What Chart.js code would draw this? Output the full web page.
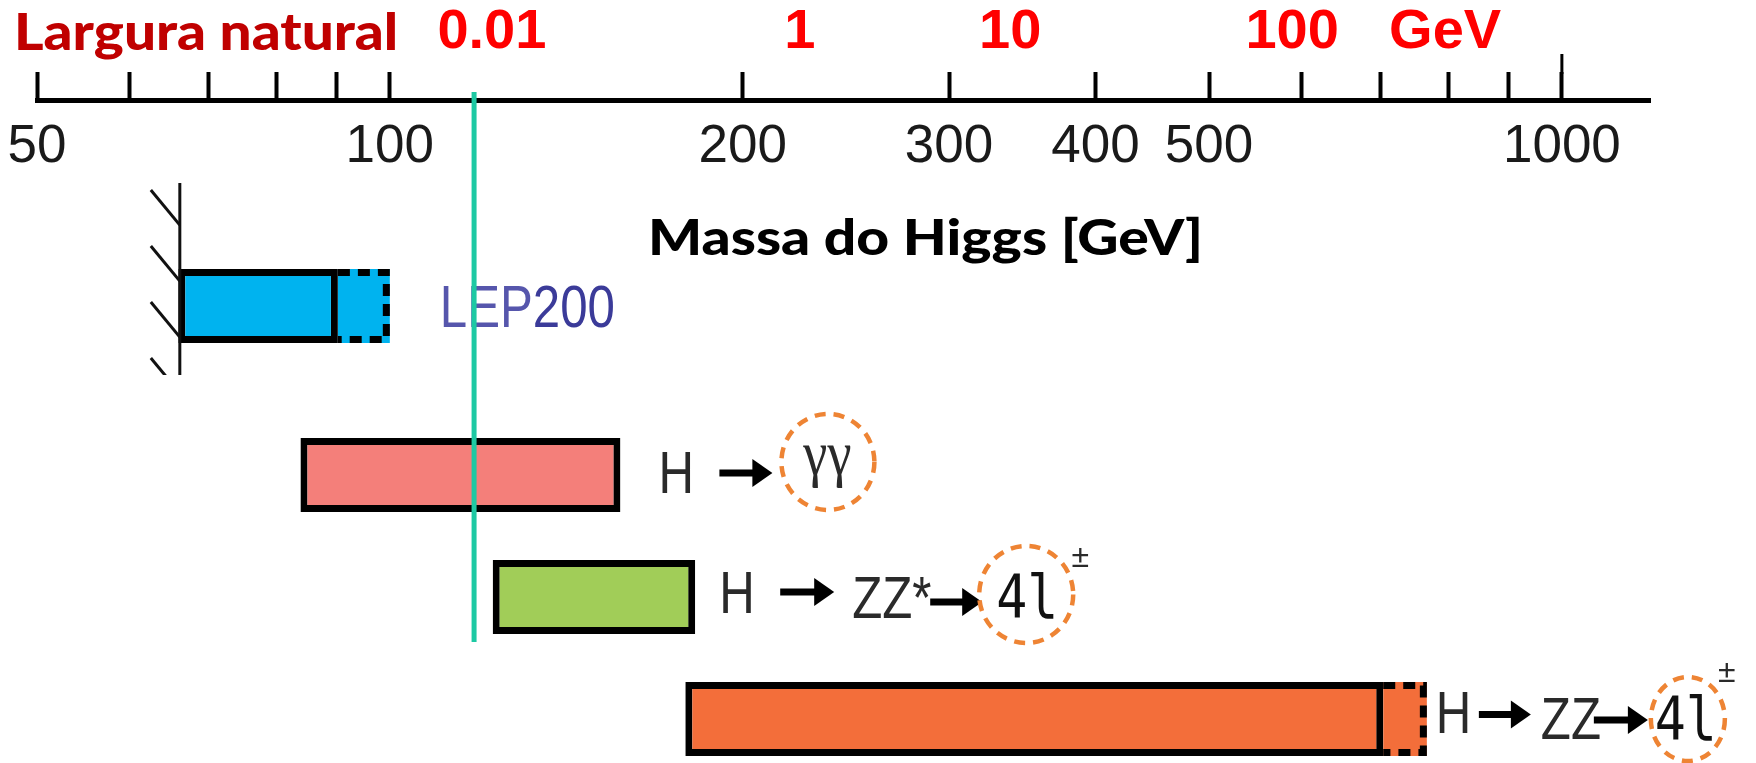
<!DOCTYPE html>
<html>
<head>
<meta charset="utf-8">
<script src="https://cdn.jsdelivr.net/npm/chart.js@4.4.1/dist/chart.umd.min.js"></script>
<style>
  html, body { margin: 0; padding: 0; background: #fff; }
</style>
</head>
<body>
<canvas id="higgsChart" width="1756" height="763"></canvas>
<script>
// Canais de busca do Higgs e faixa de massa coberta (GeV)
var canais = ['LEP200', 'H → γγ', 'H → ZZ* → 4l±', 'H → ZZ → 4l±'];
var lepFaixa = [[66, 90.3], null, null, null];
var lepExtensao = [[90.3, 100], null, null, null];
var lhcFaixa = [null, [83.9, 157.3], [122.4, 182.2], [178.7, 704]];
var lhcExtensao = [null, null, null, [704, 767]];

// Eixo de massa
var massaTicks = [50, 60, 70, 80, 90, 100, 200, 300, 400, 500, 600, 700, 800, 900, 1000];
var massaRotulos = ['50', '', '', '', '', '100', '200', '300', '400', '500', '', '', '', '', '1000'];
var massaMin = 50;
var massaMax = 1189;

// Eixo de largura natural (posições em massa)
var larguraMassa = [122.2, 223.8, 338.3, 588.6, 795];
var larguraRotulos = ['0.01', '1', '10', '100', 'GeV'];

// Massa marcada pela linha vertical
var massaHiggs = 118;

// verifica se a fonte estreita existe
function temFonte(nome) {
    var c = document.createElement('canvas').getContext('2d');
    c.font = '40px monospace';
    var a = c.measureText('HZZ4l200abc').width;
    c.font = '40px "' + nome + '", monospace';
    var b = c.measureText('HZZ4l200abc').width;
    return a !== b;
}
var temNarrow = temFonte('Liberation Sans Narrow');
var fonteEstreita = temNarrow ? '"Liberation Sans Narrow", "Liberation Sans", sans-serif' : '"Liberation Sans", sans-serif';
var fatorX = temNarrow ? 1 : 0.82;

function texto(ctx, t, x, y, fonte, cor, alinhar, sx, linhaBase) {
    ctx.save();
    ctx.font = fonte;
    ctx.fillStyle = cor;
    ctx.textAlign = alinhar || 'left';
    ctx.textBaseline = linhaBase || 'alphabetic';
    ctx.translate(x, y);
    ctx.scale(sx || 1, 1);
    ctx.fillText(t, 0, 0);
    var w = ctx.measureText(t).width * (sx || 1);
    ctx.restore();
    return w;
}

function seta(ctx, x0, x1, y) {
    ctx.save();
    ctx.strokeStyle = '#000';
    ctx.fillStyle = '#000';
    ctx.lineWidth = 7;
    ctx.beginPath();
    ctx.moveTo(x0, y);
    ctx.lineTo(x1 - 16, y);
    ctx.stroke();
    ctx.beginPath();
    ctx.moveTo(x1 - 20, y - 14);
    ctx.lineTo(x1, y);
    ctx.lineTo(x1 - 20, y + 14);
    ctx.closePath();
    ctx.fill();
    ctx.restore();
}

function circulo(ctx, cx, cy, rx, ry) {
    ctx.save();
    ctx.strokeStyle = '#ee8434';
    ctx.lineWidth = 4.5;
    ctx.setLineDash([11, 8]);
    ctx.beginPath();
    ctx.ellipse(cx, cy, rx, ry, 0, 0, Math.PI * 2);
    ctx.stroke();
    ctx.restore();
}

// extremos de cada linha (canal) a partir dos elementos das barras
function extremoLinha(chart, j) {
    var r = { ini: Infinity, fim: -Infinity, y: null, h: 0 };
    chart.data.datasets.forEach(function(ds, i) {
        if (ds.data[j] == null) return;
        var p = chart.getDatasetMeta(i).data[j].getProps(['x', 'y', 'base', 'height'], true);
        r.ini = Math.min(r.ini, p.x, p.base);
        r.fim = Math.max(r.fim, p.x, p.base);
        if (!ds.tracejado) { r.y = p.y; r.h = p.height; }
    });
    return r;
}

var anotacoes = {
    id: 'anotacoes',
    afterDatasetsDraw: function(chart) {
        var ctx = chart.ctx;
        // contorno tracejado das extensões
        chart.data.datasets.forEach(function(ds, i) {
            if (!ds.tracejado) return;
            chart.getDatasetMeta(i).data.forEach(function(bar, j) {
                if (ds.data[j] == null) return;
                var p = bar.getProps(['x', 'y', 'base', 'height'], true);
                var esq = Math.min(p.x, p.base), dir = Math.max(p.x, p.base);
                var topo = p.y - p.height / 2 + 3.5, baixo = p.y + p.height / 2 - 3.5;
                ctx.save();
                ctx.strokeStyle = '#000';
                ctx.lineWidth = 7;
                ctx.setLineDash([12, 8]);
                ctx.beginPath();
                ctx.moveTo(esq, topo);
                ctx.lineTo(dir - 3.5, topo);
                ctx.lineTo(dir - 3.5, baixo);
                ctx.lineTo(esq, baixo);
                ctx.stroke();
                ctx.restore();
            });
        });
    },
    afterDraw: function(chart) {
        var ctx = chart.ctx;
        var xs = chart.scales.x, xw = chart.scales.xw, area = chart.chartArea;

        // títulos
        texto(ctx, 'Largura natural', xw.left - 23, xw.bottom - 50, '900 52px Lato', '#c00000', 'left', 1.09);
        texto(ctx, 'Massa do Higgs [GeV]', (area.left + area.right) / 2 + 82, area.top - 14, '900 50px Lato', '#000', 'center', 1.14);

        // tick de 1000 mais alto
        var x1000 = xw.getPixelForValue(1000);
        ctx.save();
        ctx.strokeStyle = '#000';
        ctx.lineWidth = 3;
        ctx.beginPath();
        ctx.moveTo(x1000, xw.bottom - 46);
        ctx.lineTo(x1000, xw.bottom - 26);
        ctx.stroke();
        ctx.restore();

        // parede com hachuras no limite do LEP
        var lep = extremoLinha(chart, 0);
        var xp = lep.ini + 1.5, topo = lep.y - 123, baixo = lep.y + 69;
        ctx.save();
        ctx.strokeStyle = '#111';
        ctx.lineWidth = 3;
        ctx.beginPath();
        ctx.moveTo(xp, topo);
        ctx.lineTo(xp, baixo);
        ctx.stroke();
        ctx.beginPath();
        ctx.rect(xp - 40, topo, 40, baixo - topo);
        ctx.clip();
        for (var k = 0; k < 4; k++) {
            var yf = lep.y - 81 + k * 56;
            ctx.beginPath();
            ctx.moveTo(xp - 29, yf - 35);
            ctx.lineTo(xp, yf);
            ctx.stroke();
        }
        ctx.restore();

        var fH = '60px ' + fonteEstreita;
        var corT = '#2a2a2a';

        // LEP200
        var w = texto(ctx, 'LEP', lep.fim + 50, lep.y + 21, fH, '#5656ac', 'left', fatorX);
        texto(ctx, '200', lep.fim + 50 + w, lep.y + 21, '500 60px ' + fonteEstreita, '#3b3b99', 'left', fatorX);

        // H -> gamma gamma
        var r1 = extremoLinha(chart, 1);
        texto(ctx, 'H', r1.fim + 38, r1.y + 18, fH, corT, 'left', fatorX);
        seta(ctx, r1.fim + 99, r1.fim + 152, r1.y - 2);
        texto(ctx, 'γγ', r1.fim + 207, r1.y - 1, '64px "Liberation Serif"', corT, 'center', 0.85);
        circulo(ctx, r1.fim + 207.5, r1.y - 13, 46.5, 48);

        // H -> ZZ* -> 4l
        var r2 = extremoLinha(chart, 2);
        texto(ctx, 'H', r2.fim + 24, r2.y + 16, fH, corT, 'left', fatorX);
        seta(ctx, r2.fim + 85, r2.fim + 139, r2.y - 5);
        texto(ctx, 'ZZ*', r2.fim + 157, r2.y + 21, fH, corT, 'left', fatorX);
        seta(ctx, r2.fim + 235, r2.fim + 287, r2.y + 5);
        texto(ctx, '4l', r2.fim + 332, r2.y + 21, '60px "DejaVu Sans Mono"', '#111', 'center', 0.86);
        circulo(ctx, r2.fim + 331, r2.y - 2.5, 47, 48.5);
        texto(ctx, '±', r2.fim + 385, r2.y - 39, '32px "Liberation Sans"', corT, 'center', 1, 'middle');

        // H -> ZZ -> 4l
        var r3 = extremoLinha(chart, 3);
        texto(ctx, 'H', r3.fim + 9, r3.y + 14, fH, corT, 'left', fatorX);
        seta(ctx, r3.fim + 52, r3.fim + 104, r3.y - 4.5);
        texto(ctx, 'ZZ', r3.fim + 114, r3.y + 20, fH, corT, 'left', fatorX);
        seta(ctx, r3.fim + 167, r3.fim + 221, r3.y + 1);
        texto(ctx, '4l', r3.fim + 259, r3.y + 21, '60px "DejaVu Sans Mono"', '#111', 'center', 0.86);
        circulo(ctx, r3.fim + 261, r3.y, 37, 42);
        texto(ctx, '±', r3.fim + 300, r3.y - 46, '32px "Liberation Sans"', corT, 'center', 1, 'middle');

        // linha vertical da massa do Higgs
        var xh = xs.getPixelForValue(massaHiggs);
        ctx.save();
        ctx.strokeStyle = '#1dc9a3';
        ctx.lineWidth = 5;
        ctx.beginPath();
        ctx.moveTo(xh, xw.bottom - 8);
        ctx.lineTo(xh, r2.y + r2.h / 2 + 8);
        ctx.stroke();
        ctx.restore();
    }
};

document.addEventListener('DOMContentLoaded', function() {
    var barra = { categoryPercentage: 0.77, barPercentage: 1.574, borderColor: '#000', borderSkipped: false };

    var ctx = document.getElementById('higgsChart').getContext('2d');
    var higgsChart = new Chart(ctx, {
        type: 'bar',
        data: {
            labels: canais,
            datasets: [
                Object.assign({ label: 'LEP200', data: lepFaixa, stack: 'lep', backgroundColor: '#00b3ef', borderWidth: 7 }, barra),
                Object.assign({ label: 'LEP200 (extensão)', data: lepExtensao, stack: 'lep', backgroundColor: '#00b3ef', borderWidth: 0, tracejado: true }, barra),
                Object.assign({ label: 'LHC', data: lhcFaixa, stack: 'lhc', backgroundColor: ['#ffffff', '#f47f7a', '#a1cd58', '#f36e3a'], borderWidth: 7 }, barra),
                Object.assign({ label: 'LHC (extensão)', data: lhcExtensao, stack: 'lhc', backgroundColor: '#f36e3a', borderWidth: 0, tracejado: true }, barra)
            ]
        },
        options: {
            indexAxis: 'y',
            responsive: false,
            animation: false,
            devicePixelRatio: 1,
            layout: { padding: { left: 37, right: 106, top: 0, bottom: 6.5 } },
            plugins: { legend: { display: false }, tooltip: { enabled: false } },
            scales: {
                x: {
                    type: 'logarithmic',
                    position: 'top',
                    weight: 1,
                    min: massaMin,
                    max: massaMax,
                    stacked: false,
                    grid: { display: false },
                    border: { display: false },
                    ticks: {
                        autoSkip: false,
                        maxRotation: 0,
                        padding: 81,
                        color: '#1a1a1a',
                        font: { family: fonteEstreita, size: 53 },
                        callback: function(v) {
                            var i = massaTicks.indexOf(v);
                            return i >= 0 ? massaRotulos[i] : '';
                        }
                    },
                    afterBuildTicks: function(s) {
                        s.ticks = massaTicks.map(function(v) { return { value: v }; });
                    },
                    afterFit: function(s) {
                        s.height = 168.5;
                        s.paddingLeft = 0;
                        s.paddingRight = 0;
                    }
                },
                xw: {
                    type: 'logarithmic',
                    position: 'top',
                    weight: 2,
                    min: massaMin,
                    max: massaMax,
                    grid: {
                        display: true,
                        drawOnChartArea: false,
                        tickLength: 28,
                        tickWidth: 4,
                        tickColor: function(c) {
                            return c.tick && larguraMassa.indexOf(c.tick.value) >= 0 ? 'rgba(0,0,0,0)' : '#000';
                        }
                    },
                    border: { display: true, width: 5, color: '#000' },
                    ticks: {
                        autoSkip: false,
                        maxRotation: 0,
                        padding: 6,
                        color: '#ff0000',
                        font: { family: '"Liberation Sans", sans-serif', size: 56, weight: 'bold' },
                        callback: function(v) {
                            var i = larguraMassa.indexOf(v);
                            return i >= 0 ? larguraRotulos[i] : '';
                        }
                    },
                    afterBuildTicks: function(s) {
                        var t = massaTicks.concat(larguraMassa).sort(function(a, b) { return a - b; });
                        s.ticks = t.map(function(v) { return { value: v }; });
                    },
                    afterFit: function(s) {
                        s.height = 100;
                        s.paddingLeft = 0;
                        s.paddingRight = 0;
                    }
                },
                y: {
                    type: 'category',
                    display: false,
                    offset: true
                }
            }
        },
        plugins: [anotacoes]
    });
});
</script>
</body>
</html>
